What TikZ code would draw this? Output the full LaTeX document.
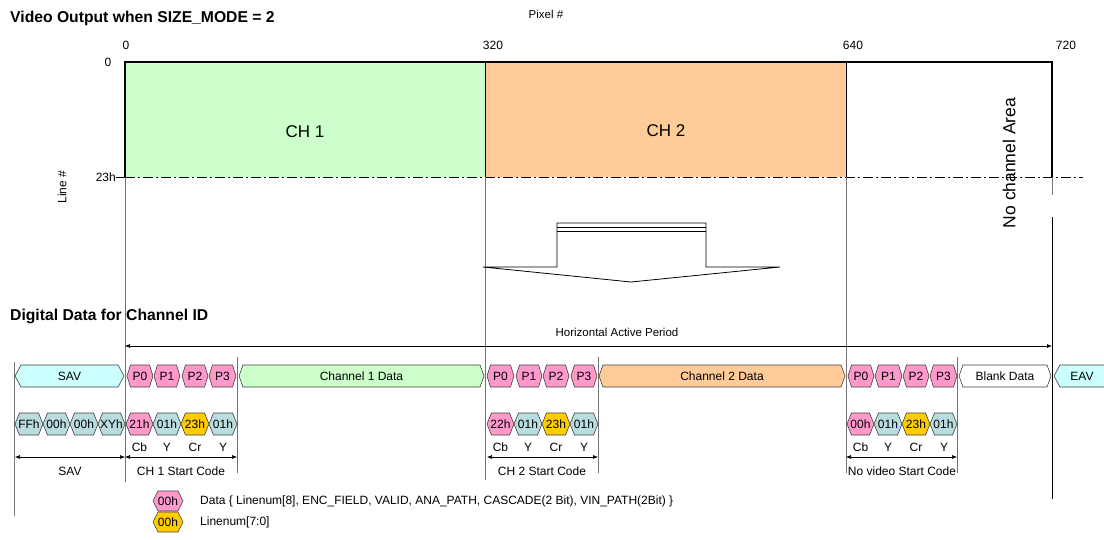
\documentclass[tikz,border=0pt]{standalone}
\usepackage{fontspec}
\setmainfont{Liberation Sans}
\usetikzlibrary{arrows.meta}
\definecolor{cyanl}{HTML}{CCFFFF}
\definecolor{pinkc}{HTML}{FF99CC}
\definecolor{greenl}{HTML}{CCFFCC}
\definecolor{orangel}{HTML}{FFCC99}
\definecolor{tealg}{RGB}{185,220,222}
\definecolor{goldc}{HTML}{FFCC00}
\newcommand\hexb[9]{%
  \filldraw[hexline, fill=#7] (#2,#4) -- ({#2+#6},{#4-#5}) -- ({#3-#6},{#4-#5}) -- (#3,#4) -- ({#3-#6},{#4+#5}) -- ({#2+#6},{#4+#5}) -- cycle;
  \node[#9] (#1) at ({(#2+#3)/2},#4) {#8};}
\tikzset{
 txt/.style={font=\fontsize{12}{13}\selectfont, inner sep=0pt},
 hext/.style={font=\fontsize{12}{13}\selectfont, inner sep=0pt},
 hexline/.style={draw=black!75, line width=0.6pt},
 vline/.style={draw=black!55, line width=0.9pt},
 dimarrow/.style={line width=0.6pt, {Latex[length=5pt,width=4pt]}-{Latex[length=5pt,width=4pt]}},
 ttl/.style={font=\bfseries\fontsize{15.7}{17}\selectfont, anchor=west, inner sep=0pt},
 big/.style={font=\fontsize{17}{19}\selectfont, inner sep=0pt},
}
\begin{document}
\begin{tikzpicture}[x=1pt,y=-1pt]
\useasboundingbox (0,0) rectangle (1104,540);
% titles
\node[ttl] (t1) at (10,18) {Video Output when SIZE\_MODE = 2};
\node[ttl] (t2) at (10,316) {Digital Data for Channel ID};
\node[txt, font=\fontsize{11.5}{13}\selectfont] (pix) at (546,14) {Pixel \#};
\node[txt] (x0) at (126,45) {0};
\node[txt] (x320) at (493,45) {320};
\node[txt] (x640) at (853,45) {640};
\node[txt] (x720) at (1066,45) {720};
\node[txt] (y0) at (108,62) {0};
\node[txt, anchor=east] (y23) at (116,177) {23h};
\node[txt, rotate=90] (linen) at (62,187) {Line \#};
% video area
\fill[greenl] (125,62) rectangle (485,177);
\fill[orangel] (485,62) rectangle (846,177);
\draw[black, line width=0.8pt] (485,62) -- (485,177) (846,62) -- (846,177);
\draw[black, line width=1.3pt] (125,177) -- (125,62) -- (1052,62) -- (1052,177);
\node[big] (ch1) at (305,132) {CH 1};
\node[big] (ch2) at (666,131) {CH 2};
\node[big, font=\fontsize{17.5}{19}\selectfont, rotate=90] (noch) at (1009,163) {No channel Area};
% dash-dot line 23h
\draw[line width=0.9pt] (116,177) -- (125,177);
\draw[line width=0.9pt, dash pattern=on 10pt off 3pt on 2pt off 3pt] (125,177) -- (1083,177);
% vertical guide lines
\draw[vline] (125,177) -- (125,482);
\draw[vline] (485,177) -- (485,480);
\draw[vline] (846,177) -- (846,473);
\draw[vline] (1052,177) -- (1052,195);
\draw[black, line width=1pt] (1052,217) -- (1052,499);
\draw[vline] (14.5,362) -- (14.5,516);
\draw[vline] (237,357) -- (237,473);
\draw[vline] (598,357) -- (598,473);
\draw[vline] (957,357) -- (957,473);
% block arrow
\draw[line width=0.8pt] (483,267) -- (557,267) -- (557,223) -- (706,223) -- (706,267) -- (780,267) -- (631,282) -- cycle;
\draw[line width=0.8pt] (557,227) -- (706,227) (557,231) -- (706,231);
% horizontal active period
\coordinate (hapL) at (125,346);
\coordinate (hapR) at (1052,346);
\draw[dimarrow] (hapL) -- (hapR);
\node[txt, font=\fontsize{11.5}{13}\selectfont] (hap) at (617,332) {Horizontal Active Period};
% row 1
\hexb{sav}{15}{124}{376}{11}{6}{cyanl}{SAV}{txt}
\hexb{p0a}{127}{153}{376}{11}{3.5}{pinkc}{P0}{txt}
\hexb{p1a}{154}{180}{376}{11}{3.5}{pinkc}{P1}{txt}
\hexb{p2a}{182}{208}{376}{11}{3.5}{pinkc}{P2}{txt}
\hexb{p3a}{209}{236}{376}{11}{3.5}{pinkc}{P3}{txt}
\hexb{ch1d}{239}{484}{376}{11}{4}{greenl}{Channel 1 Data}{txt}
\hexb{p0b}{487}{514}{376}{11}{3.5}{pinkc}{P0}{txt}
\hexb{p1b}{516}{542}{376}{11}{3.5}{pinkc}{P1}{txt}
\hexb{p2b}{543}{569}{376}{11}{3.5}{pinkc}{P2}{txt}
\hexb{p3b}{571}{597}{376}{11}{3.5}{pinkc}{P3}{txt}
\hexb{ch2d}{599}{845}{376}{11}{4}{orangel}{Channel 2 Data}{txt}
\hexb{p0c}{848}{874}{376}{11}{3.5}{pinkc}{P0}{txt}
\hexb{p1c}{875}{902}{376}{11}{3.5}{pinkc}{P1}{txt}
\hexb{p2c}{903}{929}{376}{11}{3.5}{pinkc}{P2}{txt}
\hexb{p3c}{930}{957}{376}{11}{3.5}{pinkc}{P3}{txt}
\hexb{blank}{959}{1051}{376}{11}{4}{white}{Blank Data}{txt}
\hexb{eav}{1054}{1110}{376}{11}{6}{cyanl}{EAV}{txt}
% row 2
\hexb{bff}{15}{43}{424}{11}{4.5}{tealg}{FFh}{hext}
\hexb{b00a}{43}{70}{424}{11}{4.5}{tealg}{00h}{hext}
\hexb{b00b}{70}{98}{424}{11}{4.5}{tealg}{00h}{hext}
\hexb{bxy}{98}{125}{424}{11}{4.5}{tealg}{XYh}{hext}
\hexb{a1}{126}{153}{424}{11}{4.5}{pinkc}{21h}{hext}
\hexb{a2}{153}{181}{424}{11}{4.5}{tealg}{01h}{hext}
\hexb{a3}{181}{209}{424}{11}{4.5}{goldc}{23h}{hext}
\hexb{a4}{209}{237}{424}{11}{4.5}{tealg}{01h}{hext}
\hexb{b1}{487}{514}{424}{11}{4.5}{pinkc}{22h}{hext}
\hexb{b2}{514}{542}{424}{11}{4.5}{tealg}{01h}{hext}
\hexb{b3}{542}{570}{424}{11}{4.5}{goldc}{23h}{hext}
\hexb{b4}{570}{598}{424}{11}{4.5}{tealg}{01h}{hext}
\hexb{c1}{847}{874}{424}{11}{4.5}{pinkc}{00h}{hext}
\hexb{c2}{874}{902}{424}{11}{4.5}{tealg}{01h}{hext}
\hexb{c3}{902}{930}{424}{11}{4.5}{goldc}{23h}{hext}
\hexb{c4}{930}{957}{424}{11}{4.5}{tealg}{01h}{hext}
% component labels
\foreach \n/\x in {a/0,b/361,c/721}{
  \node[txt] (cb\n) at (139.5+\x,447) {Cb};
  \node[txt] (y1\n) at (167+\x,447) {Y};
  \node[txt] (cr\n) at (195+\x,447) {Cr};
  \node[txt] (y2\n) at (223+\x,447) {Y};
}
% dimension arrows
\coordinate (d0) at (15,457);
\coordinate (d1) at (125,457);
\coordinate (d2) at (237,457);
\coordinate (d3) at (487,457);
\coordinate (d4) at (598,457);
\coordinate (d5) at (846,457);
\coordinate (d6) at (957,457);
\draw[dimarrow] (d0) -- (d1);
\draw[dimarrow] (d1) -- (d2);
\draw[dimarrow] (d3) -- (d4);
\draw[dimarrow] (d5) -- (d6);
\node[txt] (lsav) at (70,471) {SAV};
\node[txt] (lch1) at (181,471) {CH 1 Start Code};
\node[txt] (lch2) at (542,471) {CH 2 Start Code};
\node[txt] (lnv) at (902,471) {No video Start Code};
% legend
\hexb{lg1}{153}{183}{501}{10}{5}{pinkc}{00h}{hext}
\hexb{lg2}{153}{183}{522}{10}{5}{goldc}{00h}{hext}
\node[txt, anchor=west] (lgt1) at (200,501) {Data \{ Linenum[8], ENC\_FIELD, VALID, ANA\_PATH, CASCADE(2 Bit), VIN\_PATH(2Bit) \}};
\node[txt, anchor=west] (lgt2) at (200,522) {Linenum[7:0]};
\end{tikzpicture}
\end{document}
